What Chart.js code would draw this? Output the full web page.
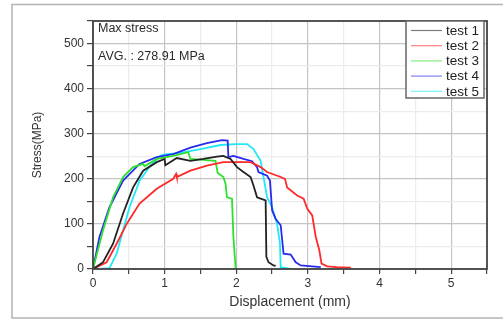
<!DOCTYPE html>
<html>
<head>
<meta charset="utf-8">
<script src="https://cdn.jsdelivr.net/npm/chart.js@4.4.0/dist/chart.umd.min.js"></script>
<style>
    html, body { margin: 0; padding: 0; background: #fff; }
</style>
</head>
<body>
<canvas id="graphique" width="503" height="322"></canvas>
<script>
// donnees (deplacement en mm, contrainte en MPa)
const etiquettes = ["test 1", "test 2", "test 3", "test 4", "test 5"];
const couleurs = ["#222222", "#ff2a2a", "#2ee02e", "#2a2aee", "#22e8f8"];

const test1X = [0, 0.14, 0.28, 0.42, 0.56, 0.70, 0.89, 1.0, 1.01, 1.17, 1.36, 1.54, 1.73, 1.82, 1.92, 2.01, 2.10, 2.20, 2.24, 2.29, 2.34, 2.41, 2.42, 2.45, 2.52, 2.55];
const test1Y = [0, 15, 56, 123, 181, 218, 237, 244, 230, 246, 240, 244, 249, 251, 244, 226, 215, 204, 185, 159, 156, 152, 27, 15, 8, 7];

const test2X = [0, 0.19, 0.33, 0.47, 0.65, 0.89, 1.12, 1.16, 1.17, 1.36, 1.59, 1.82, 1.96, 2.20, 2.34, 2.43, 2.62, 2.68, 2.71, 2.85, 2.94, 2.99, 3.06, 3.11, 3.16, 3.19, 3.27, 3.40, 3.60];
const test2Y = [0, 15, 56, 100, 145, 178, 200, 211, 204, 218, 229, 237, 237, 237, 226, 215, 204, 200, 181, 163, 156, 134, 119, 71, 41, 12, 6, 4, 3];

const test3X = [0, 0.14, 0.28, 0.42, 0.56, 0.70, 0.72, 0.89, 1.12, 1.33, 1.36, 1.54, 1.71, 1.74, 1.82, 1.85, 1.87, 1.94, 1.96, 1.99, 2.0];
const test3Y = [0, 86, 159, 204, 226, 233, 228, 244, 251, 259, 244, 242, 240, 213, 204, 189, 159, 156, 71, 4, 0];

const test4X = [0, 0.09, 0.23, 0.42, 0.65, 0.89, 1.12, 1.36, 1.59, 1.80, 1.88, 1.89, 1.96, 2.10, 2.22, 2.29, 2.31, 2.43, 2.47, 2.50, 2.55, 2.62, 2.66, 2.76, 2.83, 2.90, 3.18];
const test4Y = [0, 71, 137, 196, 233, 248, 255, 269, 279, 286, 285, 248, 251, 244, 239, 226, 215, 207, 196, 130, 111, 97, 34, 32, 15, 8, 4];

const test5X = [0, 0.09, 0.23, 0.33, 0.42, 0.51, 0.65, 0.80, 0.94, 1.0, 1.2, 1.5, 1.78, 2.0, 2.15, 2.24, 2.34, 2.38, 2.43, 2.50, 2.57, 2.61, 2.62, 2.76];
const test5Y = [0, 0, 2, 34, 86, 137, 196, 229, 251, 254, 257, 266, 275, 277, 277, 266, 240, 204, 159, 137, 100, 56, 4, 0];

const texteMax = "Max stress";
const texteMoyenne = "AVG. : 278.91 MPa";
const titreX = "Displacement (mm)";
const titreY = "Stress(MPa)";

function points(xs, ys) {
    return xs.map(function(x, i) {
        return { x: x, y: ys[i] };
    });
}

const series = [
    points(test1X, test1Y),
    points(test2X, test2Y),
    points(test3X, test3Y),
    points(test4X, test4Y),
    points(test5X, test5Y)
];

const police = "'Liberation Sans', Arial, sans-serif";

const cadre = {
    id: "cadre",
    beforeDraw(chart) {
        const ctx = chart.ctx;
        ctx.save();
        ctx.strokeStyle = "#b4b4b4";
        ctx.lineWidth = 1.5;
        ctx.strokeRect(12, 4.5, 520, 313.5);
        ctx.restore();
    },
    afterDraw(chart) {
        const ctx = chart.ctx;
        const a = chart.chartArea;
        ctx.save();
        ctx.strokeStyle = "#444";
        ctx.lineWidth = 1.8;
        ctx.strokeRect(a.left, a.top, a.right - a.left, a.bottom - a.top);

        // textes dans le graphique
        ctx.fillStyle = "#2a2a2a";
        ctx.font = "12.5px " + police;
        ctx.textBaseline = "middle";
        ctx.textAlign = "left";
        ctx.fillText(texteMax, 98, 29);
        ctx.fillText(texteMoyenne, 98, 57);

        // legende
        const lx = 406, ly = 21, lw = 78, lh = 77;
        ctx.fillStyle = "#fff";
        ctx.fillRect(lx, ly, lw, lh);
        ctx.strokeStyle = "#666";
        ctx.lineWidth = 1.5;
        ctx.strokeRect(lx, ly, lw, lh);
        ctx.font = "13.5px " + police;
        chart.data.datasets.forEach(function(ds, i) {
            const y = 30.5 + i * 15.2;
            ctx.globalAlpha = 0.6;
            ctx.strokeStyle = ds.borderColor;
            ctx.lineWidth = 1.2;
            ctx.beginPath();
            ctx.moveTo(411, y);
            ctx.lineTo(442, y);
            ctx.stroke();
            ctx.globalAlpha = 1;
            ctx.fillStyle = "#222";
            ctx.fillText(ds.label, 446, y + 0.5);
        });
        ctx.restore();
    }
};

new Chart(document.getElementById("graphique"), {
    type: "scatter",
    data: {
        datasets: series.map(function(d, i) {
            return {
                label: etiquettes[i],
                data: d,
                showLine: true,
                borderColor: couleurs[i],
                backgroundColor: couleurs[i],
                borderWidth: 1.8,
                pointRadius: 0,
                tension: 0
            };
        })
    },
    options: {
        responsive: false,
        animation: false,
        layout: {
            padding: { left: 0, top: 21, right: 16, bottom: 0 }
        },
        plugins: {
            legend: { display: false },
            tooltip: { enabled: false }
        },
        scales: {
            x: {
                type: "linear",
                min: 0,
                max: 5.5,
                afterFit: function(scale) { scale.height = 53; },
                ticks: {
                    stepSize: 0.5,
                    autoSkip: false,
                    padding: 2,
                    color: "#333",
                    font: { family: police, size: 12 },
                    callback: function(v) { return Number.isInteger(v) ? v : ""; }
                },
                grid: {
                    color: function(c) {
                        return c.tick && Number.isInteger(c.tick.value) ? "#c4c4c4" : "#ececec";
                    },
                    lineWidth: 1.2,
                    tickColor: "#444",
                    tickLength: 5
                },
                border: { display: false },
                title: {
                    display: true,
                    text: titreX,
                    color: "#333",
                    font: { family: police, size: 14 },
                    padding: { top: 0, bottom: 11.6 }
                }
            },
            y: {
                min: 0,
                max: 550,
                afterFit: function(scale) { scale.width = 93; },
                ticks: {
                    stepSize: 50,
                    autoSkip: false,
                    padding: 3,
                    color: "#333",
                    font: { family: police, size: 12 },
                    callback: function(v) { return v % 100 === 0 ? v : ""; }
                },
                grid: {
                    color: function(c) {
                        return c.tick && c.tick.value % 100 === 0 ? "#c4c4c4" : "#ececec";
                    },
                    lineWidth: 1.2,
                    tickColor: "#444",
                    tickLength: 6
                },
                border: { display: false },
                title: {
                    display: true,
                    text: titreY,
                    color: "#333",
                    font: { family: police, size: 12 },
                    padding: { top: 30, bottom: 0 }
                }
            }
        }
    },
    plugins: [cadre]
});
</script>
</body>
</html>
